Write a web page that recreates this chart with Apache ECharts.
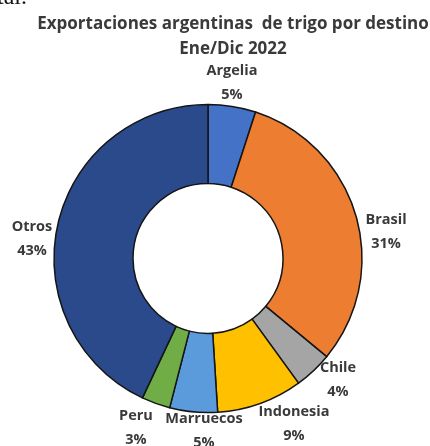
<!DOCTYPE html>
<html>
<head>
<meta charset="utf-8">
<script src="https://cdn.jsdelivr.net/npm/echarts@6/dist/echarts.min.js"></script>
<style>
html,body{margin:0;padding:0;background:#fff;}
#chart{width:430px;height:446px;}
</style>
</head>
<body>
<div id="chart"></div>
<script>
// Data
const categories = ['Argelia', 'Brasil', 'Chile', 'Indonesia', 'Marruecos', 'Peru', 'Otros'];
const shares = [5, 31, 4, 9, 5, 3, 43];
const titleLines = ['Exportaciones argentinas  de trigo por destino', 'Ene/Dic 2022'];

// Style
const colors = ['#4472C6', '#ED7D31', '#A5A5A5', '#FFC000', '#5B9BDC', '#70AD47', '#2A4A8C'];
const labelPos = [[232, 83], [386, 232], [338, 380], [294, 424], [204, 431], [136, 428], [32, 239]];

const chart = echarts.init(document.getElementById('chart'), null, {renderer: 'canvas'});
const option = {
  animation: false,
  backgroundColor: '#fff',
  title: {
    text: titleLines.join('\n'),
    left: 228,
    top: 7,
    textAlign: 'center',
    textStyle: {
      fontFamily: 'Open Sans',
      fontWeight: 'bold',
      fontSize: 17,
      lineHeight: 25,
      color: '#3a3a3a'
    }
  },
  graphic: [{
    type: 'text',
    left: -3,
    top: -14,
    style: {text: 'tal.', font: '24px "Liberation Serif"', fill: '#111'}
  }],
  series: [{
    type: 'pie',
    center: [208, 258.5],
    radius: [75, 154],
    startAngle: 90,
    clockwise: true,
    color: colors,
    itemStyle: {borderColor: '#151515', borderWidth: 1.5},
    label: {
      show: true,
      position: 'inside',
      formatter: p => p.name + '\n' + p.value + '%',
      fontFamily: 'Open Sans',
      fontWeight: 'bold',
      fontSize: 14.5,
      lineHeight: 24,
      color: '#3a3a3a',
      align: 'center',
      overflow: 'none'
    },
    labelLine: {show: false},
    labelLayout: function (params) {
      const p = labelPos[params.dataIndex];
      return {x: p[0], y: p[1], align: 'center', verticalAlign: 'middle', hideOverlap: false};
    },
    data: categories.map((c, i) => ({name: c, value: shares[i]}))
  }]
};
chart.setOption(option);
</script>
</body>
</html>
